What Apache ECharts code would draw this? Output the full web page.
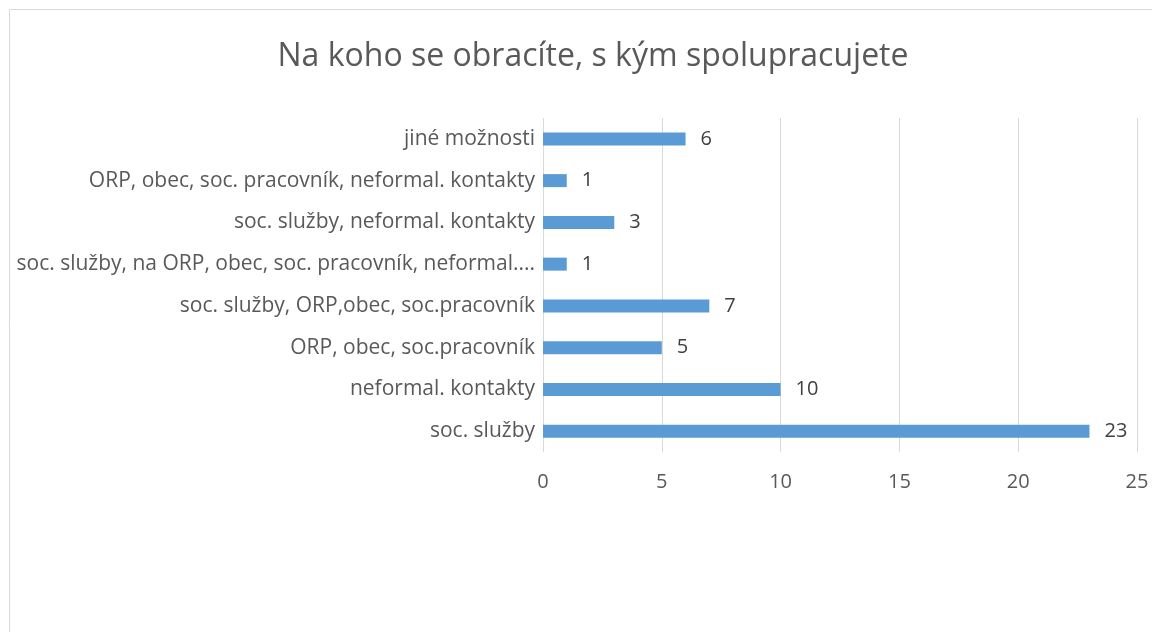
<!DOCTYPE html>
<html>
<head>
<meta charset="utf-8">
<script src="https://cdn.jsdelivr.net/npm/echarts@6/dist/echarts.min.js"></script>
<style>
  html, body { margin: 0; padding: 0; background: #fff; }
  #chart { width: 1152px; height: 632px; }
</style>
</head>
<body>
<div id="chart"></div>
<script>
// data, bottom to top
const categories = [
  'soc. služby',
  'neformal. kontakty',
  'ORP, obec, soc.pracovník',
  'soc. služby, ORP,obec, soc.pracovník',
  'soc. služby, na ORP, obec, soc. pracovník, neformal....',
  'soc. služby, neformal. kontakty',
  'ORP, obec, soc. pracovník, neformal. kontakty',
  'jiné možnosti'
]
const values = [23, 10, 5, 7, 1, 3, 1, 6]
const xTicks = [0, 5, 10, 15, 20, 25]

const font = 'Open Sans'

const myChart = echarts.init(document.getElementById('chart'))

const option = {
  animation: false,
  title: {
    text: 'Na koho se obracíte, s kým spolupracujete',
    left: 588,
    top: 36,
    textAlign: 'center',
    textStyle: {
      fontFamily: font,
      fontSize: 32,
      fontWeight: 'normal',
      color: '#595959'
    }
  },
  graphic: [
    {
      type: 'rect',
      shape: { x: 9.5, y: 9.5, width: 1160, height: 640 },
      style: { fill: 'none', stroke: '#d9d9d9', lineWidth: 1 },
      silent: true
    }
  ],
  grid: {
    left: 543,
    right: 15,
    top: 118,
    bottom: 180,
    containLabel: false
  },
  xAxis: {
    type: 'value',
    min: xTicks[0],
    max: xTicks[xTicks.length - 1],
    interval: 5,
    axisLine: { show: false },
    axisTick: { show: false },
    splitLine: { lineStyle: { color: '#d9d9d9', width: 1 } },
    axisLabel: {
      margin: 20,
      fontFamily: font,
      fontSize: 20,
      color: '#595959'
    }
  },
  yAxis: {
    type: 'category',
    data: categories,
    axisLine: { show: false },
    axisTick: { show: false },
    axisLabel: {
      margin: 8,
      fontFamily: font,
      fontSize: 21,
      color: '#595959'
    }
  },
  series: [
    {
      type: 'bar',
      data: values,
      barWidth: 13,
      itemStyle: { color: '#5b9bd5' },
      label: {
        show: true,
        position: 'right',
        distance: 15,
        fontFamily: font,
        fontSize: 20,
        color: '#404040'
      }
    }
  ]
}

myChart.setOption(option)
</script>
</body>
</html>
